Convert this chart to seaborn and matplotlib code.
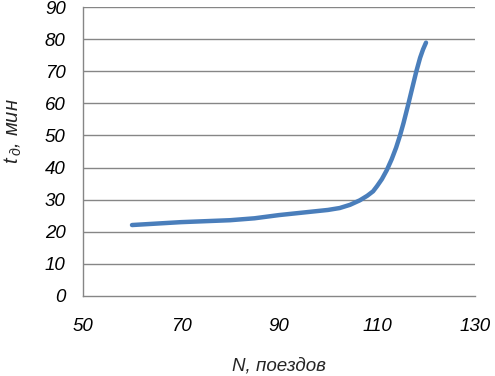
import matplotlib
matplotlib.use("Agg")
import matplotlib.pyplot as plt
import seaborn as sns
import pandas as pd

# data
n_trains = [60, 70, 80, 85, 90, 95, 100, 102.4, 104.5, 106.5, 108.0, 109.2, 110.0,
            111.0, 112.0, 113.0, 113.9, 114.7, 115.4, 116.4, 117.1, 118.0, 118.8, 119.4, 120]
t_minutes = [22.1, 23.0, 23.6, 24.2, 25.2, 26.0, 26.8, 27.4, 28.4, 29.8, 31.2, 32.6, 34.2,
             36.4, 39.2, 42.6, 46.2, 50.0, 53.8, 59.8, 64.2, 69.8, 74.2, 76.8, 78.9]
x_ticks = [50, 70, 90, 110, 130]
y_ticks = [0, 10, 20, 30, 40, 50, 60, 70, 80, 90]

sns.set_style("white")
plt.rcParams['font.family'] = ['Liberation Sans', 'DejaVu Sans']
plt.rcParams['mathtext.fontset'] = 'custom'
plt.rcParams['mathtext.it'] = 'Liberation Sans:italic'
plt.rcParams['mathtext.rm'] = 'Liberation Sans'

df = pd.DataFrame({"N": n_trains, "t": t_minutes})

fig = plt.figure(figsize=(4.95, 3.76), dpi=100)
ax = fig.add_axes([83/495, 1-296/376, (475-83)/495, (296-7)/376])

sns.lineplot(data=df, x="N", y="t", ax=ax, color="#4A7EBB", linewidth=3.2,
             solid_capstyle="round", solid_joinstyle="round")

grid_c = "#868686"
fs = 13.5
ax.set_xlim(50, 130)
ax.set_ylim(0, 90)
ax.set_xticks(x_ticks)
ax.set_yticks(y_ticks)
ax.set_xticklabels([str(v) for v in x_ticks], fontstyle="italic", fontsize=fs)
ax.set_yticklabels([str(v) for v in y_ticks], fontstyle="italic", fontsize=fs)
for v in y_ticks[1:]:
    ax.axhline(v, color=grid_c, linewidth=1.0, zorder=0)

for s in ["top", "right"]:
    ax.spines[s].set_visible(False)
for s in ["left", "bottom"]:
    ax.spines[s].set_color(grid_c)
    ax.spines[s].set_linewidth(1.0)
ax.tick_params(axis="both", which="major", direction="out", length=4.5, width=1.0,
               color=grid_c, labelcolor="black")
ax.tick_params(axis="x", pad=11)
ax.tick_params(axis="y", pad=8)

ax.set_xlabel("N, поездов", fontstyle="italic", fontsize=fs, va="center")
ax.xaxis.set_label_coords((279 - 83) / 392, (296 - 366) / 289)
ax.set_ylabel(r"$t\,{}_{д}$, мин", fontstyle="italic", fontsize=14.5, va="center")
ax.yaxis.set_label_coords((13 - 83) / 392, (296 - 131) / 289)

fig.savefig("out.png", dpi=100)
